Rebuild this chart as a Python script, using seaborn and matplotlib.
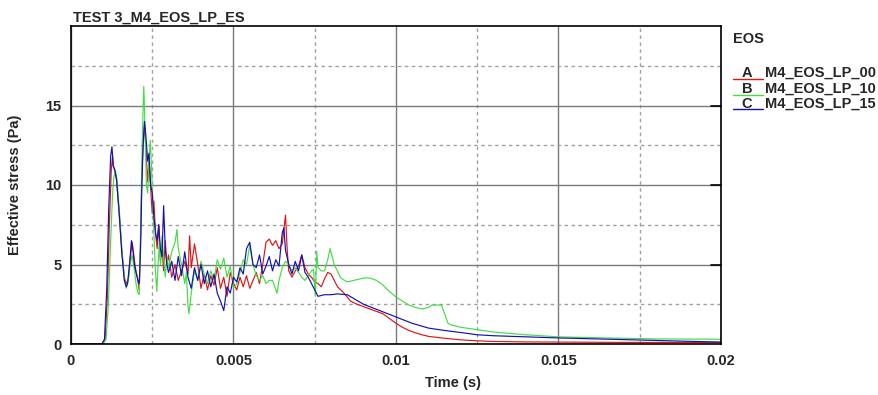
import matplotlib
matplotlib.use("Agg")
import matplotlib.pyplot as plt
from matplotlib.lines import Line2D
from matplotlib.ticker import FixedLocator, FixedFormatter
import seaborn as sns
import pandas as pd

# ---- series labels and colours ----
series_names = ["A_M4_EOS_LP_00", "B_M4_EOS_LP_10", "C_M4_EOS_LP_15"]
series_colors = ["#e01414", "#44dd44", "#1212b4"]

# ---- A: M4_EOS_LP_00 (time in s, effective stress in Pa) ----
time_a = [
    0.0, 0.00095, 0.00105, 0.00112, 0.00118, 0.00124, 0.00128, 0.0013, 0.00135, 0.0014,
    0.00148, 0.00156, 0.00164, 0.0017, 0.00176, 0.00182, 0.00188, 0.00192, 0.00198, 0.00204,
    0.0021, 0.00214, 0.00218, 0.00222, 0.00226, 0.0023, 0.00236, 0.0024, 0.00246, 0.0025,
    0.00255, 0.0026, 0.00265, 0.0027, 0.00275, 0.0028, 0.00285, 0.0029, 0.00295, 0.003,
    0.0031, 0.0032, 0.0033, 0.0034, 0.0035, 0.0036, 0.00365, 0.0037, 0.0038, 0.0039,
    0.004, 0.0041, 0.0042, 0.0043, 0.0044, 0.0045, 0.0046, 0.0047, 0.0048, 0.0049,
    0.005, 0.0051, 0.0052, 0.0053, 0.0054, 0.0055, 0.0056, 0.0057, 0.0058, 0.0059,
    0.006, 0.0061, 0.0062, 0.0063, 0.0064, 0.0065, 0.0066, 0.00665, 0.0067, 0.0068,
    0.0069, 0.007, 0.0071, 0.0072, 0.0073, 0.0074, 0.0075, 0.0076, 0.0077, 0.0078,
    0.0079, 0.008, 0.0081, 0.0082, 0.0084, 0.0086, 0.0088, 0.009, 0.0092, 0.0094,
    0.0096, 0.0098, 0.01, 0.0102, 0.0104, 0.0106, 0.0108, 0.011, 0.0115, 0.012,
    0.0125, 0.013, 0.014, 0.015, 0.017, 0.02,
]
stress_a = [
    0.0, 0.0, 0.3, 3.0, 7.5, 11.0, 11.8, 11.2, 10.9, 10.3,
    8.3, 6.0, 4.2, 3.8, 4.0, 5.3, 6.4, 5.8, 4.8, 4.2,
    3.4, 6.5, 10.5, 12.8, 13.7, 12.5, 10.2, 11.5, 9.5, 8.2,
    9.0, 7.0, 6.0, 7.5, 5.2, 6.2, 4.6, 6.5, 5.0, 5.6,
    4.2, 5.0, 4.0, 4.6, 5.2, 4.4, 6.8, 4.8, 6.3, 5.0,
    3.5, 4.4, 3.4, 4.3, 3.7, 4.8, 3.5, 4.2, 3.0, 4.5,
    3.8, 3.4, 4.2, 3.6, 4.3, 3.5, 4.0, 4.5, 3.8, 5.0,
    6.4, 6.6, 6.2, 6.5, 6.0, 6.3, 8.1, 6.0, 4.6, 4.2,
    4.6, 4.9, 5.6, 4.8, 4.4, 4.2, 3.9, 3.8, 3.6, 4.1,
    4.5, 4.4, 4.0, 3.6, 3.2, 2.7, 2.5, 2.35, 2.2, 2.05,
    1.9, 1.6, 1.3, 1.05, 0.85, 0.7, 0.58, 0.48, 0.36, 0.26,
    0.2, 0.16, 0.13, 0.12, 0.1, 0.1,
]

# ---- B: M4_EOS_LP_10 ----
time_b = [
    0.0, 0.001, 0.00108, 0.00115, 0.00122, 0.00128, 0.00132, 0.00137, 0.00142, 0.0015,
    0.00158, 0.00165, 0.0017, 0.00176, 0.00182, 0.00188, 0.00194, 0.002, 0.00206, 0.0021,
    0.00214, 0.00218, 0.00222, 0.00224, 0.00228, 0.00232, 0.00236, 0.0024, 0.00244, 0.00248,
    0.00252, 0.00256, 0.0026, 0.00264, 0.00268, 0.00272, 0.00276, 0.0028, 0.00285, 0.0029,
    0.00295, 0.003, 0.0031, 0.0032, 0.00326, 0.0033, 0.0034, 0.0035, 0.00355, 0.0036,
    0.00363, 0.0037, 0.0038, 0.0039, 0.004, 0.0041, 0.0042, 0.0043, 0.0044, 0.0045,
    0.0046, 0.0047, 0.0048, 0.0049, 0.005, 0.0051, 0.0052, 0.0053, 0.0054, 0.0055,
    0.0056, 0.0057, 0.0058, 0.0059, 0.006, 0.0061, 0.0062, 0.00634, 0.0064, 0.0065,
    0.0066, 0.0067, 0.0068, 0.0069, 0.007, 0.0071, 0.0072, 0.0073, 0.0074, 0.00746,
    0.00752, 0.00756, 0.0076, 0.0077, 0.0078, 0.0079, 0.00797, 0.0081, 0.0083, 0.0085,
    0.0087, 0.009, 0.0092, 0.0094, 0.0096, 0.0098, 0.01, 0.0102, 0.0104, 0.0106,
    0.0108, 0.011, 0.0111, 0.0114, 0.0116, 0.0117, 0.012, 0.0125, 0.013, 0.014,
    0.015, 0.0165, 0.018, 0.02,
]
stress_b = [
    0.0, 0.0, 0.3, 2.5, 6.5, 9.5, 10.5, 10.9, 10.2, 8.0,
    5.5, 4.0, 3.5, 4.0, 5.0, 5.6, 4.8, 3.8, 3.2, 3.1,
    7.0, 11.5, 15.0, 16.2, 13.5, 10.0, 9.5, 11.5, 12.8, 11.0,
    8.5, 6.5, 4.5, 3.3, 5.0, 6.5, 5.0, 6.8, 5.5, 4.2,
    5.5, 4.8, 5.8, 6.4, 7.2, 6.0, 5.0, 3.8, 4.5, 2.4,
    1.9, 3.2, 4.6, 4.0, 5.2, 4.4, 3.8, 4.6, 4.0, 5.3,
    4.7, 5.4, 4.2, 4.9, 3.5, 3.8, 4.5, 5.3, 5.0, 6.2,
    5.0, 4.3, 4.0, 4.3, 3.8, 4.0, 4.0, 3.2, 4.0, 4.8,
    5.2, 5.0, 4.6, 4.8, 4.5, 4.2, 4.0, 4.3, 4.6, 4.7,
    3.0, 5.85, 4.8, 4.6, 4.6, 5.3, 6.0, 5.0, 4.15, 3.9,
    4.0, 4.15, 4.15, 4.0, 3.7, 3.3, 2.95, 2.7, 2.45, 2.3,
    2.2, 2.3, 2.45, 2.45, 1.3, 1.2, 1.05, 0.9, 0.75, 0.58,
    0.45, 0.38, 0.32, 0.3,
]

# ---- C: M4_EOS_LP_15 ----
time_c = [
    0.0, 0.00095, 0.00103, 0.0011, 0.00116, 0.00122, 0.00126, 0.0013, 0.00134, 0.0014,
    0.00148, 0.00156, 0.00164, 0.0017, 0.00174, 0.0018, 0.00186, 0.0019, 0.00195, 0.002,
    0.00206, 0.0021, 0.00214, 0.00218, 0.00222, 0.00226, 0.0023, 0.00236, 0.0024, 0.00245,
    0.0025, 0.00255, 0.0026, 0.00265, 0.0027, 0.00275, 0.0028, 0.00285, 0.0029, 0.00295,
    0.003, 0.0031, 0.0032, 0.0033, 0.0034, 0.0035, 0.0036, 0.0037, 0.0038, 0.0039,
    0.004, 0.0041, 0.0042, 0.0043, 0.0044, 0.0045, 0.0046, 0.0047, 0.0048, 0.0049,
    0.005, 0.0051, 0.0052, 0.0053, 0.0054, 0.0055, 0.0056, 0.0057, 0.0058, 0.0059,
    0.006, 0.0061, 0.0062, 0.0063, 0.0064, 0.0065, 0.00655, 0.0066, 0.0067, 0.0068,
    0.0069, 0.007, 0.0071, 0.0072, 0.0073, 0.0074, 0.0075, 0.0076, 0.0077, 0.0078,
    0.008, 0.0082, 0.0085, 0.009, 0.0095, 0.01, 0.0105, 0.011, 0.0115, 0.012,
    0.0125, 0.013, 0.014, 0.015, 0.016, 0.0175, 0.019, 0.02,
]
stress_c = [
    0.0, 0.0, 0.3, 3.5, 8.5, 11.8, 12.4, 11.2, 11.0, 10.4,
    8.3, 5.8, 4.0, 3.6, 3.8, 5.0, 6.5, 6.0, 5.0, 4.5,
    4.0, 3.8, 6.0, 10.0, 12.5, 14.0, 13.2, 11.5, 12.0, 10.0,
    9.5, 8.0, 7.0, 6.5, 7.5, 6.0, 5.5, 8.7, 6.0, 5.0,
    4.5, 5.2, 4.0, 5.5, 4.3, 5.8, 4.2, 3.5, 4.8, 4.0,
    5.0, 3.8, 4.6, 3.6, 4.4, 3.2, 2.7, 2.1, 3.6, 3.2,
    4.2, 3.9, 4.8, 4.4, 6.0, 6.4, 5.0, 4.8, 5.6, 4.4,
    4.9, 5.5, 4.6, 5.3, 4.9, 7.0, 7.3, 5.9, 5.0, 4.4,
    5.2, 4.6, 5.6, 4.5, 4.2, 3.8, 3.4, 3.0, 3.05, 3.1,
    3.1, 3.15, 3.1, 2.5, 2.1, 1.7, 1.3, 1.0, 0.85, 0.72,
    0.58, 0.52, 0.45, 0.38, 0.33, 0.25, 0.17, 0.12,
]

# ---- axis ticks ----
x_major = [0.0, 0.005, 0.01, 0.015, 0.02]
x_major_labels = ["0", "0.005", "0.01", "0.015", "0.02"]
x_minor = [0.0025, 0.0075, 0.0125, 0.0175]
y_major = [0, 5, 10, 15]
y_major_labels = ["0", "5", "10", "15"]
y_minor = [2.5, 7.5, 12.5, 17.5]

frames = []
for name, t, s in zip(series_names, [time_a, time_b, time_c], [stress_a, stress_b, stress_c]):
    frames.append(pd.DataFrame({"time": t, "stress": s, "series": name}))
df = pd.concat(frames, ignore_index=True)

sns.set_theme(style="white")
plt.rcParams["font.family"] = ["Liberation Sans", "DejaVu Sans"]
plt.rcParams["font.weight"] = "bold"

W, H = 879, 395
fig = plt.figure(figsize=(W / 100, H / 100), dpi=100)
ax = fig.add_axes([71 / W, 51 / H, 650 / W, 318 / H])

sns.lineplot(
    data=df, x="time", y="stress", hue="series", hue_order=series_names,
    palette=dict(zip(series_names, series_colors)), estimator=None, sort=False,
    linewidth=0.85, legend=False, ax=ax,
)

ax.set_xlim(0, 0.02)
ax.set_ylim(0, 20)
ax.xaxis.set_major_locator(FixedLocator(x_major))
ax.xaxis.set_major_formatter(FixedFormatter(x_major_labels))
ax.xaxis.set_minor_locator(FixedLocator(x_minor))
ax.yaxis.set_major_locator(FixedLocator(y_major))
ax.yaxis.set_major_formatter(FixedFormatter(y_major_labels))
ax.yaxis.set_minor_locator(FixedLocator(y_minor))

ax.set_axisbelow(True)
ax.grid(which="major", color="#7a7a7a", linewidth=1.0, linestyle="-")
ax.grid(which="minor", color="#a0a0a0", linewidth=1.0, linestyle=(0, (2.5, 2.5)))

for sp in ax.spines.values():
    sp.set_color("black")
    sp.set_linewidth(1.2)
    sp.set_visible(True)

ax.tick_params(which="major", direction="inout", length=8, width=1.2, color="black",
               labelsize=10.5, pad=3, top=False, right=False)
ax.tick_params(which="minor", length=0)
for lab in ax.get_xticklabels() + ax.get_yticklabels():
    lab.set_fontweight("bold")

# short inward marks on the right frame at the major y positions
for yv in y_major[1:]:
    ax.plot([0.985, 1.0], [yv / 20] * 2, transform=ax.transAxes, color="black",
            linewidth=1.2, clip_on=False)

ax.set_xlabel("Time (s)", fontsize=10.5, fontweight="bold")
ax.set_ylabel("Effective stress (Pa)", fontsize=10.5, fontweight="bold")
ax.xaxis.set_label_coords((453 - 71) / 650, (344 - 376) / 318)
ax.yaxis.set_label_coords((22 - 71) / 650, 0.5)

fig.text(73 / W, 1 - 22 / H, "TEST 3_M4_EOS_LP_ES", fontsize=10.5, fontweight="bold",
         ha="left", va="baseline")

# legend block on the right
fig.text(733 / W, 1 - 43 / H, "EOS", fontsize=10.5, fontweight="bold", ha="left", va="baseline")
row_baselines = [77, 93, 108]
letters = ["A", "B", "C"]
for letter, name, color, yb in zip(letters, series_names, series_colors, row_baselines):
    fig.add_artist(Line2D([733 / W, 763 / W], [1 - (yb + 1.5) / H] * 2,
                          transform=fig.transFigure, color=color, linewidth=1.0))
    fig.text(747 / W, 1 - yb / H, letter, fontsize=10.5, fontweight="bold",
             ha="center", va="baseline")
    fig.text(765 / W, 1 - yb / H, name[2:], fontsize=10.5, fontweight="bold",
             ha="left", va="baseline")

fig.savefig("out.png", dpi=100)
